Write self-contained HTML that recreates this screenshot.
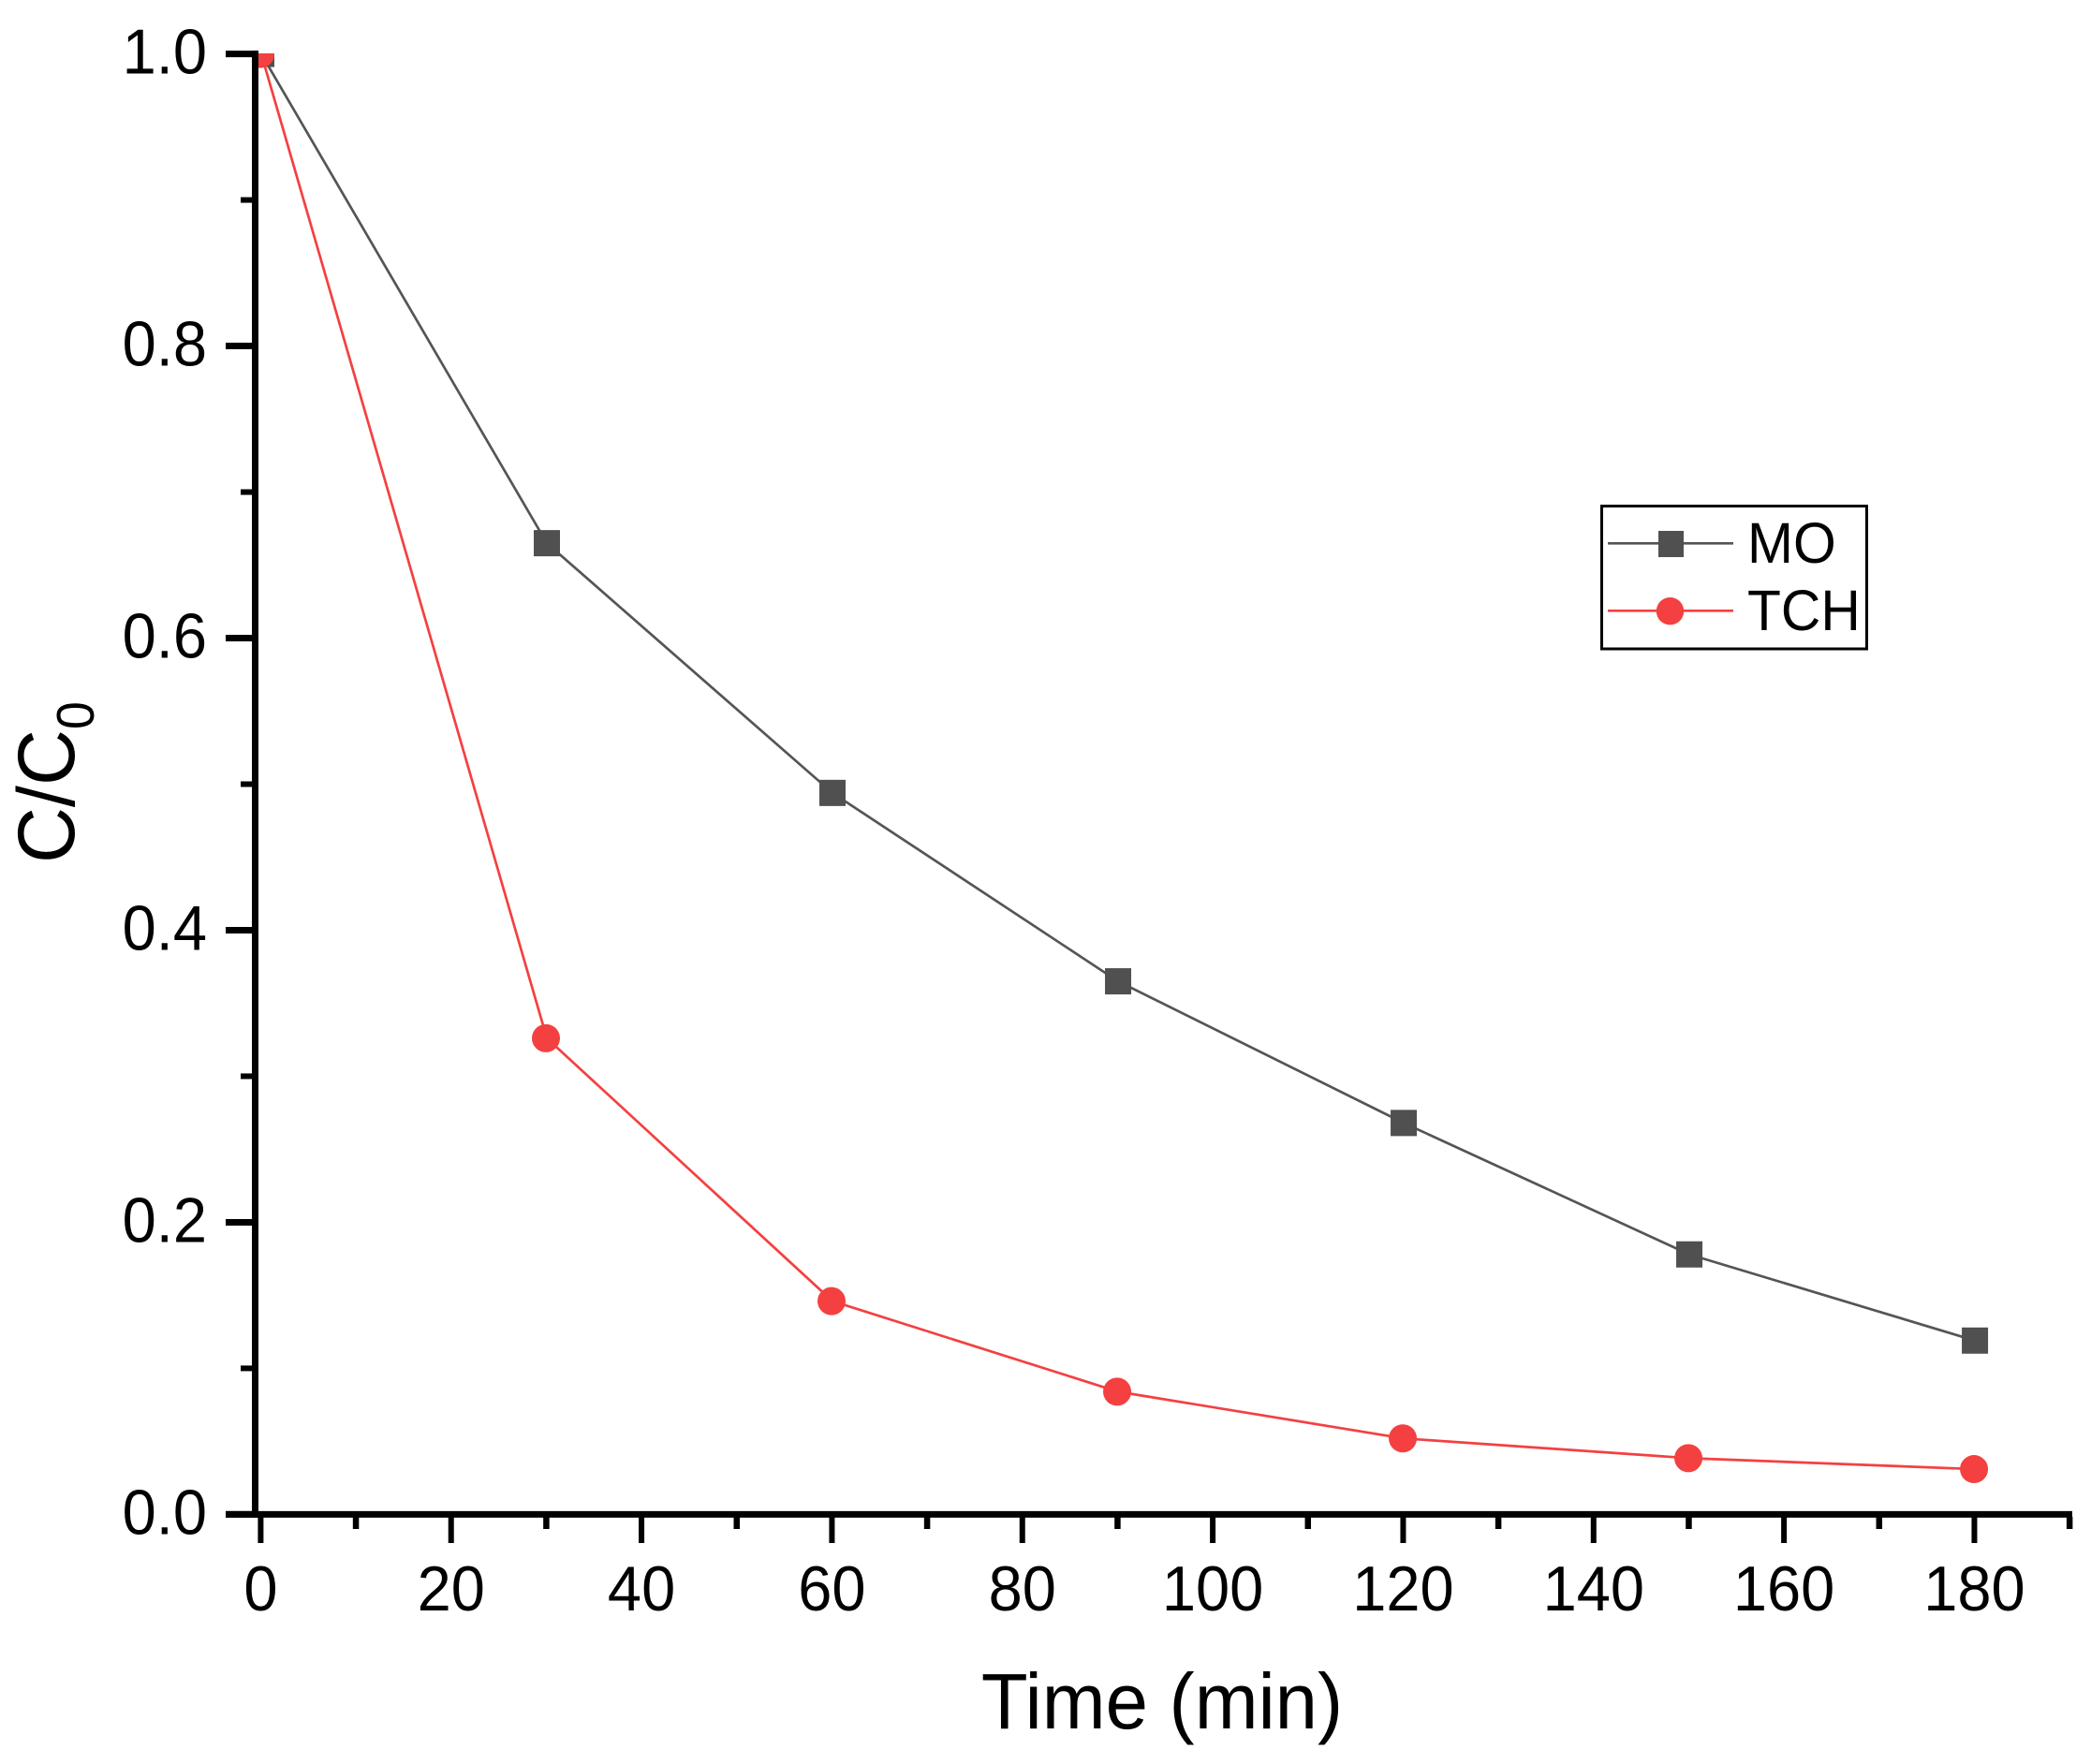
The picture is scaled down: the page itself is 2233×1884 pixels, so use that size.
<!DOCTYPE html>
<html lang="en">
<head>
<meta charset="utf-8">
<title>C/C0 vs Time</title>
<style>
html,body{margin:0;padding:0;background:#fff;}
svg{display:block;font-family:"Liberation Sans",Arial,sans-serif;}
</style>
</head>
<body>
<svg id="chart" xmlns="http://www.w3.org/2000/svg" width="2233" height="1884" viewBox="0 0 2233 1884">
  <defs>
    <clipPath id="plot-clip"><rect x="276" y="57" width="1940" height="1560"/></clipPath>
  </defs>
  <rect width="2233" height="1884" fill="#ffffff"/>
  <g id="series" clip-path="url(#plot-clip)"></g>
  <g id="axes"></g>
  <text transform="translate(1241,1846) scale(1,1.04)" font-size="81.5" text-anchor="middle" fill="#000">Time (min)</text>
  <text transform="translate(79,922) rotate(-90) scale(1,1.04)" font-size="83" fill="#000">C/C<tspan font-size="54" dy="20">0</tspan></text>
  <g>
    <rect x="1710.5" y="540.5" width="283" height="152.5" fill="#fff" stroke="#000" stroke-width="3"/>
    <line x1="1717" y1="580.3" x2="1851" y2="580.3" stroke="#555555" stroke-width="2.7"/>
    <rect x="1771" y="567" width="27" height="28" fill="#505050"/>
    <text transform="translate(1866,601) scale(1,1.04)" font-size="58.8" fill="#000">MO</text>
    <line x1="1717" y1="652.3" x2="1851" y2="652.3" stroke="#F44040" stroke-width="2.7"/>
    <circle cx="1783.5" cy="652.7" r="14.7" fill="#F44040"/>
    <text transform="translate(1866,673) scale(1,1.04)" font-size="58.8" fill="#000">TCH</text>
  </g>
</svg>
<script>
const times = [0, 30, 60, 90, 120, 150, 180];
const moValues = [1.0, 0.665, 0.494, 0.365, 0.268, 0.178, 0.119];
const tchValues = [1.0, 0.326, 0.146, 0.084, 0.052, 0.0385, 0.031];
const xMajorTicks = [0, 20, 40, 60, 80, 100, 120, 140, 160, 180];
const xMinorTicks = [10, 30, 50, 70, 90, 110, 130, 150, 170, 190];
const yMajorTicks = [0.0, 0.2, 0.4, 0.6, 0.8, 1.0];
const yMinorTicks = [0.1, 0.3, 0.5, 0.7, 0.9];

const NS = 'http://www.w3.org/2000/svg';
function xAxis(v) { return 279 + v * 10.167; }
function yAxis(v) { return 1617.4 - v * 1559.8; }
function make(tag, attrs, parent) {
  const el = document.createElementNS(NS, tag);
  for (const k in attrs) el.setAttribute(k, attrs[k]);
  parent.appendChild(el);
  return el;
}

const seriesGroup = document.getElementById('series');
const axesGroup = document.getElementById('axes');

function drawLine(values, color) {
  const pts = times.map((t, i) => xAxis(t).toFixed(2) + ',' + yAxis(values[i]).toFixed(2)).join(' ');
  const line = make('polyline', { points: pts, fill: 'none', stroke: color, 'stroke-width': 2.7 }, seriesGroup);
  
  
}

drawLine(moValues, '#555555');
times.forEach((t, i) => {
  const m = make('rect', { x: xAxis(t) - 14, y: yAxis(moValues[i]) - 14, width: 28, height: 28, fill: '#505050' }, seriesGroup);
  
  
});

drawLine(tchValues, '#F44040');
times.forEach((t, i) => {
  const m = make('circle', { cx: xAxis(t) - 1, cy: yAxis(tchValues[i]), r: 15, fill: '#F44040' }, seriesGroup);
  
  
});

const yLine = make('line', { x1: 272.5, y1: 54, x2: 272.5, y2: 1621, stroke: '#000', 'stroke-width': 7 }, axesGroup);


const xLine = make('line', { x1: 241, y1: 1617.4, x2: 2213, y2: 1617.4, stroke: '#000', 'stroke-width': 7 }, axesGroup);



xMajorTicks.forEach(v => {
  const x = xAxis(v) - 0.6;
  const tick = make('line', { x1: x, y1: 1620, x2: x, y2: 1648, stroke: '#000', 'stroke-width': 6 }, axesGroup);
  
  
  const label = make('text', { transform: 'translate(' + x + ',1720) scale(1,1.04)', 'font-size': 65, 'text-anchor': 'middle', fill: '#000' }, axesGroup);
  
  
  label.textContent = String(v);
});
xMinorTicks.forEach(v => {
  const x = xAxis(v) - 0.6;
  const tick = make('line', { x1: x, y1: 1620, x2: x, y2: 1633, stroke: '#000', 'stroke-width': 6.5 }, axesGroup);
  
  
});
yMajorTicks.forEach(v => {
  const y = yAxis(v);
  const tick = make('line', { x1: 241, y1: y, x2: 270, y2: y, stroke: '#000', 'stroke-width': 7 }, axesGroup);
  
  
  const label = make('text', { transform: 'translate(221,' + (y + 21) + ') scale(1,1.04)', 'font-size': 65, 'text-anchor': 'end', fill: '#000' }, axesGroup);
  
  
  label.textContent = v.toFixed(1);
});
yMinorTicks.forEach(v => {
  const y = yAxis(v);
  const tick = make('line', { x1: 257, y1: y, x2: 270, y2: y, stroke: '#000', 'stroke-width': 6 }, axesGroup);
  
  
});
</script>
</body>
</html>
